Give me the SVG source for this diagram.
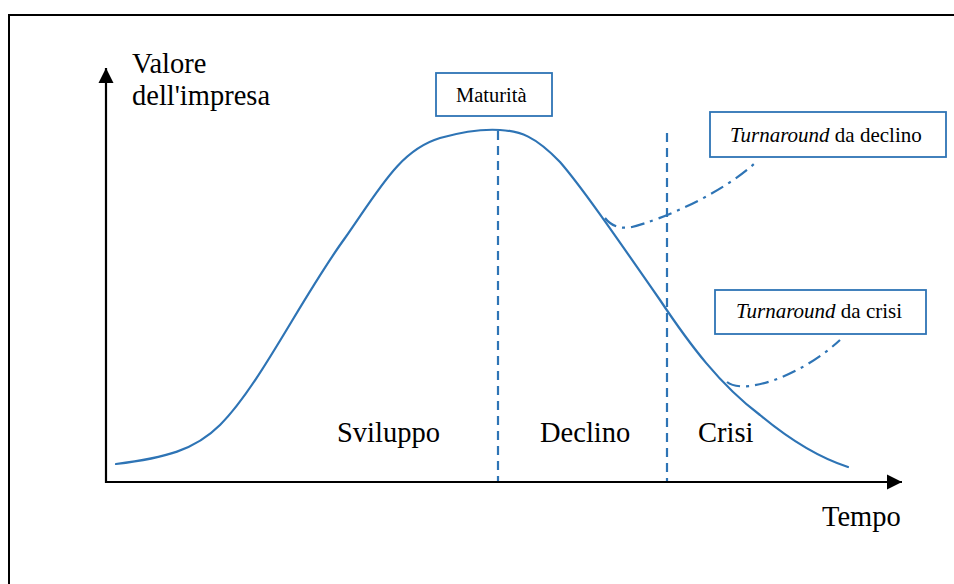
<svg xmlns="http://www.w3.org/2000/svg" width="954" height="584" viewBox="0 0 954 584">
<style>
text{font-family:'Liberation Serif','DejaVu Serif','Times New Roman',serif;fill:#000}
.curve{fill:none;stroke:#2E74B5;stroke-width:2.2;stroke-linecap:round}
.dash{fill:none;stroke:#2E74B5;stroke-width:2.2;stroke-dasharray:9 6}
.dd{fill:none;stroke:#2E74B5;stroke-width:2.2;stroke-dasharray:14 6 3 6}
.box{fill:#fff;stroke:#2E74B5;stroke-width:1.8}
.axis{stroke:#000;stroke-width:2.2;fill:none}
</style>
<defs>
<marker id="ah" viewBox="0 0 10 10" refX="10" refY="5" markerWidth="7" markerHeight="7" orient="auto" markerUnits="strokeWidth">
<path d="M0,0 L10,5 L0,10 Z" fill="#000"/>
</marker>
</defs>
<rect x="0" y="0" width="954" height="584" fill="#fff"/>
<path d="M9,590 L9,15 L960,15" fill="none" stroke="#000" stroke-width="2"/>
<g id="connectors">
<line class="axis" x1="106" y1="483" x2="106" y2="68" marker-end="url(#ah)"/>
<line class="axis" x1="105" y1="482" x2="902" y2="482" marker-end="url(#ah)"/>
<line class="dash" x1="498" y1="131" x2="498" y2="481"/>
<line class="dash" x1="667" y1="133" x2="667" y2="481"/>
<path id="lifecycle" class="curve" d="M116,464 C165,458 195,450 220,425 C260,385 300,300 345,238 C380,188 400,150 440,138 C465,131 485,129 500,130 C520,131 535,136 560,162 C580,185 610,228 660,300 C690,345 720,385 760,415 C790,440 820,458 848,467"/>
<path id="ta-declino" class="dd" d="M605,218 C612,227 622,229 632,227 C660,220 720,195 755,163"/>
<path id="ta-crisi" class="dd" d="M727,382 C732,386 740,387 750,386 C780,382 815,363 840,340"/>
</g>
<g id="maturita">
<rect class="box" x="436" y="73" width="116" height="43"/>
<text font-family="'Liberation Serif', serif" x="456" y="102" font-size="20.5">Maturità</text>
</g>
<g id="turnaround-declino">
<rect class="box" x="710" y="112" width="236" height="45"/>
<text font-family="'Liberation Serif', serif" x="730" y="142" font-size="21"><tspan font-style="italic">Turnaround</tspan> da declino</text>
</g>
<g id="turnaround-crisi">
<rect class="box" x="715" y="290" width="211" height="44"/>
<text font-family="'Liberation Serif', serif" x="736" y="318" font-size="21"><tspan font-style="italic">Turnaround</tspan> da crisi</text>
</g>
<g id="axis-labels">
<text font-family="'Liberation Serif', serif" x="132" y="73" font-size="28.5">Valore</text>
<text font-family="'Liberation Serif', serif" x="132" y="105" font-size="28.5">dell'impresa</text>
<text font-family="'Liberation Serif', serif" x="822" y="526" font-size="28.5">Tempo</text>
</g>
<g id="phases">
<text font-family="'Liberation Serif', serif" x="337" y="442" font-size="28.5">Sviluppo</text>
<text font-family="'Liberation Serif', serif" x="540" y="442" font-size="28.5">Declino</text>
<text font-family="'Liberation Serif', serif" x="698" y="442" font-size="28.5">Crisi</text>
</g>
</svg>
